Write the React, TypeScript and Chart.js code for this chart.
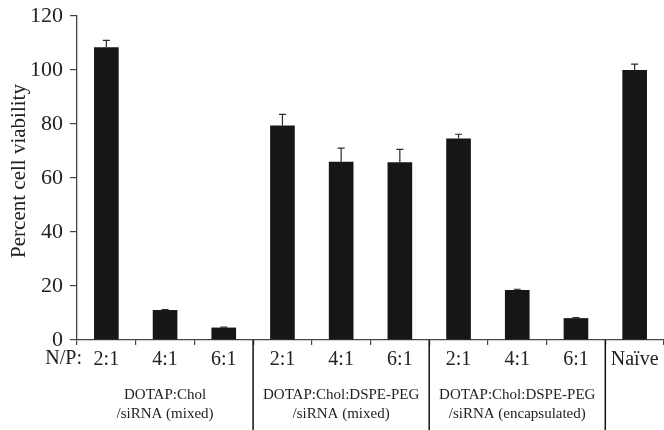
import React, { useEffect, useRef } from "react";
import { Chart, registerables } from "chart.js";

Chart.register(...registerables);

const categories = ["2:1", "4:1", "6:1", "2:1", "4:1", "6:1", "2:1", "4:1", "6:1", "Naïve"];
const viability = [108.4, 11.1, 4.6, 79.4, 66.0, 65.8, 74.6, 18.5, 8.1, 100.0];
const errorUp = [2.6, 0.2, 0.2, 4.2, 5.1, 4.8, 1.6, 0.3, 0.2, 2.2];
const yTicks = [0, 20, 40, 60, 80, 100, 120];
const groupLabels = [
  ["DOTAP:Chol", "/siRNA (mixed)"],
  ["DOTAP:Chol:DSPE-PEG", "/siRNA (mixed)"],
  ["DOTAP:Chol:DSPE-PEG", "/siRNA (encapsulated)"],
];
const groupSpans = [
  [0, 2],
  [3, 5],
  [6, 8],
];
const dividerAfter = [2, 5, 8];
const prefixLabel = "N/P:";
const yTitle = "Percent cell viability";

const FONT = "'Liberation Serif', 'Times New Roman', serif";

const extrasPlugin = {
  id: "extras",
  afterDatasetsDraw(chart: any) {
    const ctx = chart.ctx;
    const x = chart.scales.x;
    const y = chart.scales.y;
    const meta = chart.getDatasetMeta(0);
    ctx.save();
    // error bars (upper only)
    ctx.strokeStyle = "#2a2a2a";
    ctx.lineWidth = 1.2;
    meta.data.forEach((bar: any, i: number) => {
      const top = y.getPixelForValue(viability[i] + errorUp[i]);
      ctx.beginPath();
      ctx.moveTo(bar.x, bar.y);
      ctx.lineTo(bar.x, top);
      ctx.moveTo(bar.x - 3.5, top);
      ctx.lineTo(bar.x + 3.5, top);
      ctx.stroke();
    });
    // dividers
    ctx.strokeStyle = "#111";
    ctx.lineWidth = 1.5;
    dividerAfter.forEach((i) => {
      const px = (x.getPixelForValue(i) + x.getPixelForValue(i + 1)) / 2;
      ctx.beginPath();
      ctx.moveTo(px, y.bottom);
      ctx.lineTo(px, chart.height);
      ctx.stroke();
    });
    // N/P prefix
    ctx.fillStyle = "#222";
    ctx.font = `20px ${FONT}`;
    ctx.textAlign = "right";
    ctx.textBaseline = "middle";
    ctx.fillText(prefixLabel, x.left + 5, y.bottom + 19);
    // group labels
    ctx.font = `15px ${FONT}`;
    ctx.textAlign = "center";
    groupSpans.forEach((span, g) => {
      const cx = (x.getPixelForValue(span[0]) + x.getPixelForValue(span[1])) / 2;
      groupLabels[g].forEach((line, k) => {
        ctx.fillText(line, cx, y.bottom + 55 + k * 19);
      });
    });
    // y title
    ctx.font = `21px ${FONT}`;
    ctx.translate(19, (y.top + y.bottom) / 2 - 7);
    ctx.rotate(-Math.PI / 2);
    ctx.textAlign = "center";
    ctx.textBaseline = "middle";
    ctx.fillText(yTitle, 0, 0);
    ctx.restore();
  },
};

export default function App() {
  const ref = useRef<HTMLCanvasElement>(null);
  useEffect(() => {
    if (!ref.current) return;
    const chart = new Chart(ref.current, {
      type: "bar",
      data: {
        labels: categories,
        datasets: [
          {
            data: viability,
            backgroundColor: "#161616",
            borderWidth: 0,
            categoryPercentage: 1,
            barPercentage: 0.42,
          },
        ],
      },
      options: {
        responsive: false,
        animation: false,
        layout: { autoPadding: false, padding: { top: 16, right: 0, left: 0, bottom: 0 } },
        plugins: { legend: { display: false }, tooltip: { enabled: false } },
        scales: {
          x: {
            afterFit: (s: any) => {
              s.height = 90;
              s.paddingLeft = 0;
              s.paddingRight = 0;
            },
            grid: { drawOnChartArea: false, tickLength: 5, offset: true, color: "#444", lineWidth: 1.2 },
            border: { color: "#444", width: 1.3 },
            ticks: {
              font: { family: FONT, size: 20 },
              color: "#222",
              padding: 3,
              maxRotation: 0,
              autoSkip: false,
            },
          },
          y: {
            min: 0,
            max: 120,
            afterFit: (s: any) => {
              s.width = 77;
              s.paddingTop = 0;
              s.paddingBottom = 0;
            },
            afterBuildTicks: (s: any) => {
              s.ticks = yTicks.map((v) => ({ value: v }));
            },
            grid: { drawOnChartArea: false, tickLength: 7, color: "#444", lineWidth: 1.2 },
            border: { color: "#444", width: 1.3 },
            ticks: {
              font: { family: FONT, size: 22 },
              color: "#222",
              padding: 7,
            },
          },
        },
      },
      plugins: [extrasPlugin],
    });
    return () => chart.destroy();
  }, []);
  return (
    <div style={{ position: "absolute", left: 0, top: 0, width: 664, height: 430 }}>
      <canvas ref={ref} width={664} height={430} style={{ display: "block" }} />
    </div>
  );
}
